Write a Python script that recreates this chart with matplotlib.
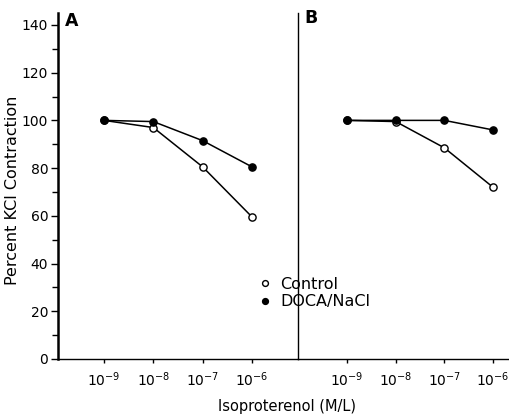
import matplotlib
matplotlib.use("Agg")
import matplotlib.pyplot as plt
from matplotlib.lines import Line2D

# concentrations (M/L)
conc = [1e-9, 1e-8, 1e-7, 1e-6]
conc_labels = [r"$10^{-9}$", r"$10^{-8}$", r"$10^{-7}$", r"$10^{-6}$"]

# panel A
a_control = [100, 97, 80.5, 59.5]
a_doca = [100, 99.5, 91.5, 80.5]

# panel B
b_control = [100, 99.5, 88.5, 72]
b_doca = [100, 100, 100, 96]

plt.rcParams["font.family"] = ["DejaVu Sans"]

W, H = 509, 417
fig = plt.figure(figsize=(W / 100, H / 100), dpi=100)

bottom = 1 - 359 / H
top = 1 - 13 / H
axA = fig.add_axes([58 / W, bottom, (298 - 58) / W, top - bottom])
axB = fig.add_axes([298 / W, bottom, (509 - 298) / W, top - bottom])

lw = 1.1
ms = 5.2


def draw(ax, control, doca):
    ax.plot(conc, control, color="black", lw=lw, marker="o", ms=ms,
            mfc="white", mec="black", mew=1.0, zorder=3)
    ax.plot(conc, doca, color="black", lw=lw, marker="o", ms=ms,
            mfc="black", mec="black", zorder=4)
    ax.set_xscale("log")
    ax.set_ylim(0, 145)
    ax.set_xticks(conc)
    ax.set_xticklabels(conc_labels, fontsize=10)
    ax.minorticks_off()
    ax.tick_params(axis="x", direction="out", length=3, width=1, pad=5)
    ax.spines["top"].set_visible(False)
    ax.spines["right"].set_visible(False)
    ax.spines["bottom"].set_linewidth(1.0)


draw(axA, a_control, a_doca)
draw(axB, b_control, b_doca)

axA.set_xlim(10 ** -9.93, 10 ** -5.07)
axB.set_xlim(10 ** -10.01, 10 ** -5.67)

# y axis on panel A
axA.set_yticks(range(0, 141, 20))
axA.set_yticks(range(10, 141, 20), minor=True)
axA.tick_params(axis="y", which="major", direction="out", length=5, width=1,
                labelsize=10, pad=2)
axA.tick_params(axis="y", which="minor", direction="out", length=4, width=1)
axA.spines["left"].set_linewidth(1.8)

fig.text(13 / W, 1 - 190 / H, "Percent KCl Contraction", fontsize=11.5,
         rotation=90, ha="center", va="center")

# panel B: left spine is the divider
axB.set_yticks([])
axB.spines["left"].set_linewidth(1.0)

fig.text(65 / W, 1 - 21 / H, "A", fontsize=12.5, fontweight="bold",
         ha="left", va="center")
fig.text(304 / W, 1 - 18 / H, "B", fontsize=12.5, fontweight="bold",
         ha="left", va="center")

fig.text(287 / W, 1 - 407 / H, "Isoproterenol (M/L)", fontsize=10.5,
         ha="center", va="center")

handles = [
    Line2D([], [], ls="none", marker="o", ms=4.2, mfc="white", mec="black", mew=1.0),
    Line2D([], [], ls="none", marker="o", ms=4.2, mfc="black", mec="black"),
]
fig.legend(handles, ["Control", "DOCA/NaCl"], loc="upper left",
           bbox_to_anchor=(259 / W, 1 - 277 / H), frameon=False,
           fontsize=11.5, handlelength=0.8, handletextpad=0.55,
           labelspacing=0.15, borderpad=0, borderaxespad=0)

fig.savefig("out.png", dpi=100)
